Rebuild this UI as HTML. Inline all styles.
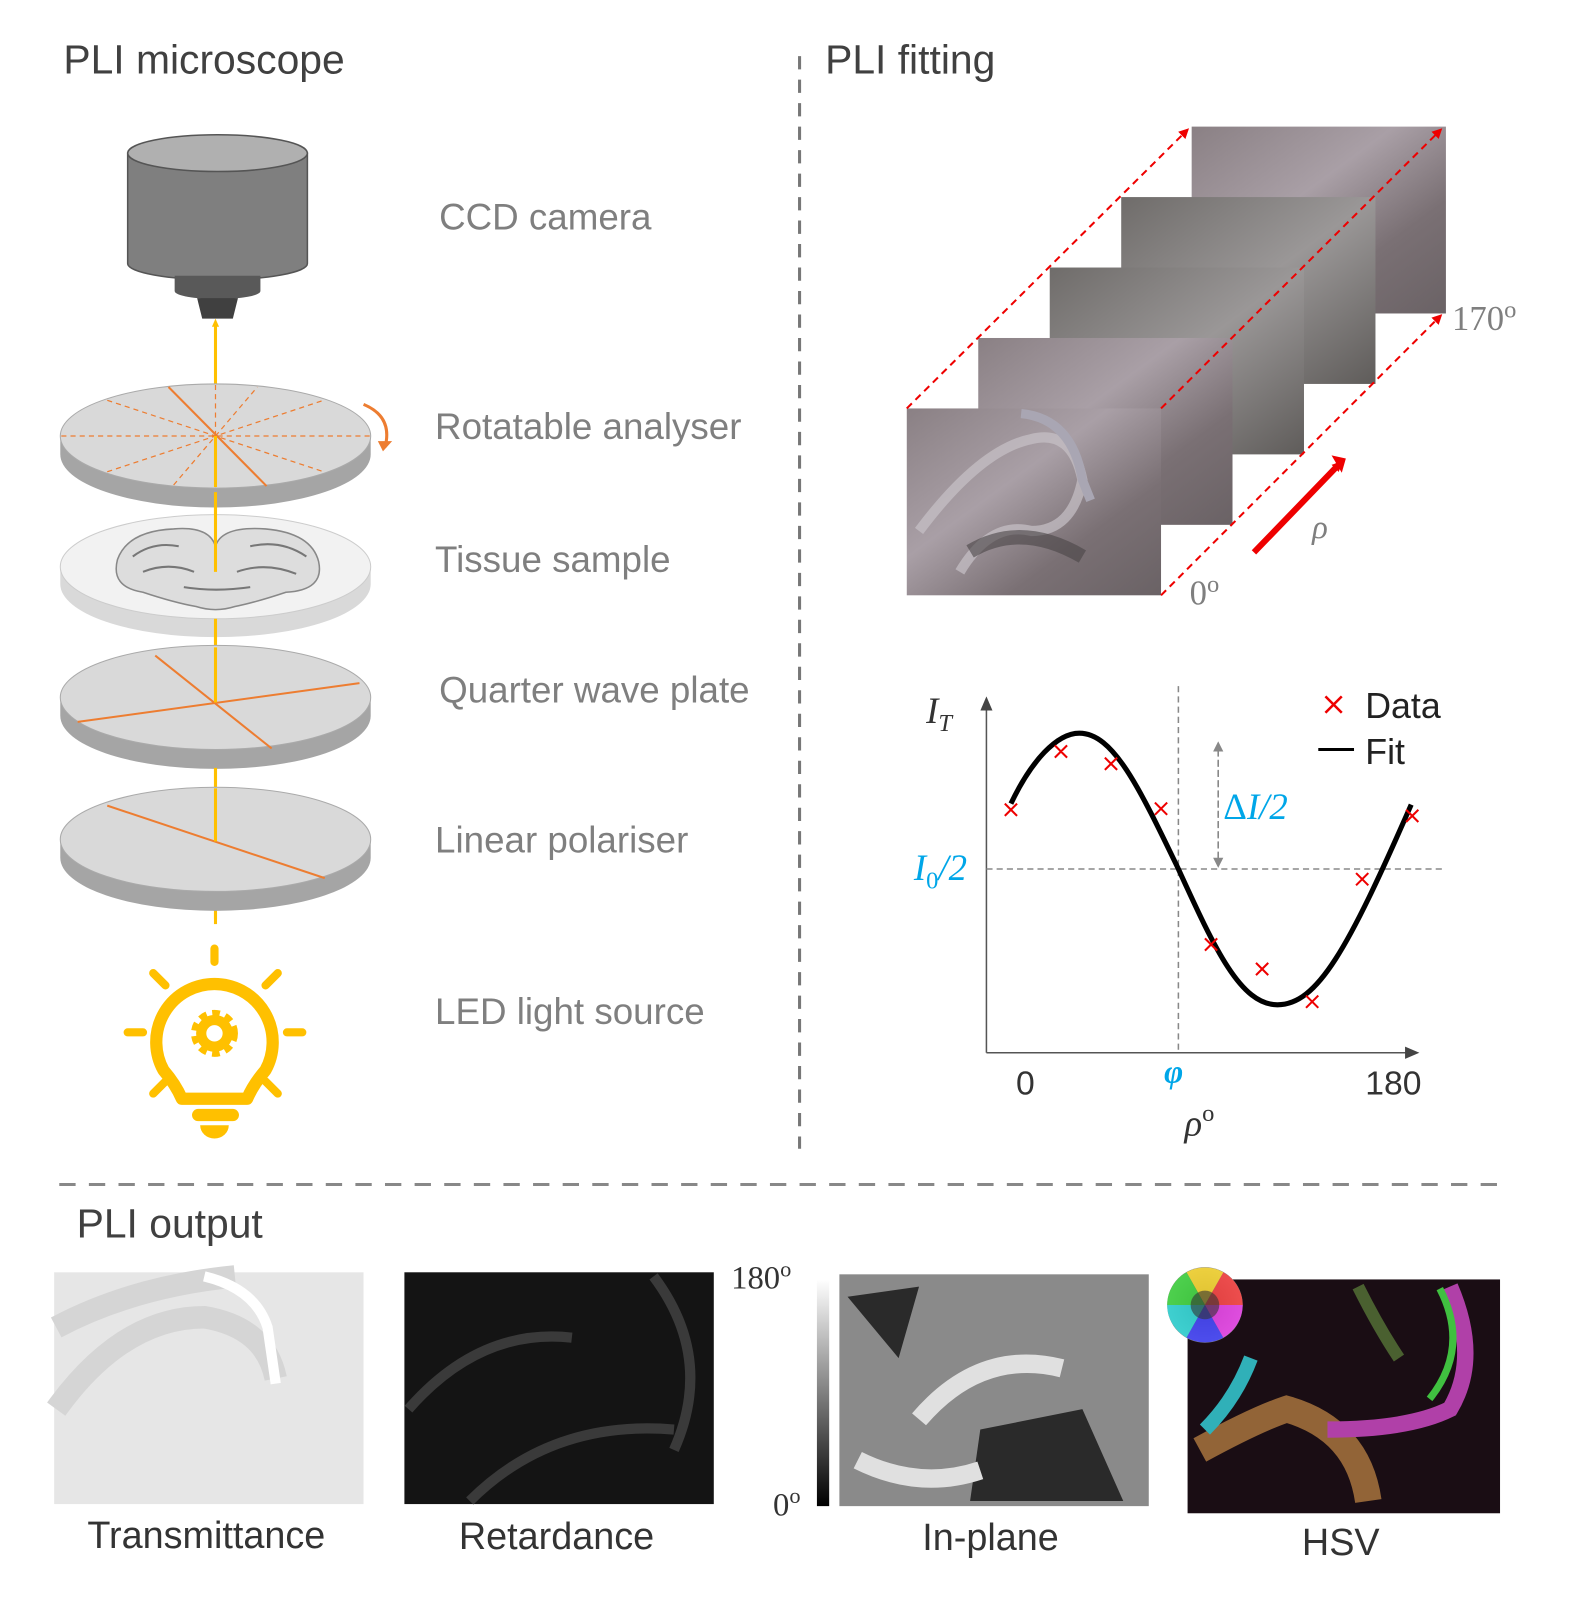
<!DOCTYPE html>
<html><head><meta charset="utf-8"><style>
html,body{margin:0;padding:0;background:#fff}
svg{display:block}
text{font-family:"Liberation Sans",sans-serif}
.lab{fill:#7f7f7f;font-size:36px}
.ser{font-family:"Liberation Serif",serif}
</style></head><body>
<svg width="1593" height="1597" viewBox="0 0 1560 1564" xmlns="http://www.w3.org/2000/svg">
<defs>
<linearGradient id="tis" x1="0" y1="0" x2="1" y2="1">
<stop offset="0" stop-color="#8a8084"/><stop offset=".4" stop-color="#a99fa6"/><stop offset=".7" stop-color="#7a7074"/><stop offset="1" stop-color="#6a6265"/></linearGradient>
<linearGradient id="tis2" x1="0" y1="0" x2="1" y2="1">
<stop offset="0" stop-color="#6f6c6a"/><stop offset=".5" stop-color="#9a9797"/><stop offset="1" stop-color="#5f5c5a"/></linearGradient>
<linearGradient id="cb" x1="0" y1="0" x2="0" y2="1"><stop offset="0" stop-color="#fff"/><stop offset="1" stop-color="#000"/></linearGradient>
<radialGradient id="wh"><stop offset="0" stop-color="#222"/><stop offset="1" stop-color="#888"/></radialGradient>
<marker id="ya" markerWidth="8" markerHeight="8" refX="4" refY="4" orient="auto" markerUnits="userSpaceOnUse"><path d="M0,0.5L8,4L0,7.5z" fill="#ffc000"/></marker>
<marker id="ra" markerWidth="10" markerHeight="10" refX="8" refY="5" orient="auto" markerUnits="userSpaceOnUse"><path d="M0,0L10,5L0,10z" fill="#e00"/></marker>
<marker id="ga" markerWidth="10" markerHeight="10" refX="8" refY="5" orient="auto" markerUnits="userSpaceOnUse"><path d="M0,0L10,5L0,10z" fill="#888"/></marker>
<marker id="ka" markerWidth="14" markerHeight="12" refX="12" refY="6" orient="auto" markerUnits="userSpaceOnUse"><path d="M0,0L14,6L0,12z" fill="#444"/></marker>
</defs>

<text x="62" y="72" font-size="40" fill="#404040">PLI microscope</text>
<text x="808" y="72" font-size="40" fill="#404040">PLI fitting</text>
<text x="75" y="1212" font-size="40" fill="#404040">PLI output</text>
<line x1="783" y1="55" x2="783" y2="1125" stroke="#777" stroke-width="3" stroke-dasharray="13,10"/>
<line x1="58" y1="1160" x2="1468" y2="1160" stroke="#888" stroke-width="3" stroke-dasharray="16,13"/>

<path d="M125,150 V258 A88,16 0 0 0 301,258 V150 Z" fill="#7f7f7f" stroke="#555" stroke-width="1.5"/>
<ellipse cx="213" cy="150" rx="88" ry="18" fill="#b0b0b0" stroke="#555" stroke-width="1.5"/>
<path d="M171,270 V285 A42,8 0 0 0 255,285 V270 Z" fill="#595959"/>
<path d="M193,292 L233,292 L228,312 L198,312 Z" fill="#404040"/>

<line x1="211" y1="900" x2="211" y2="316" stroke="#ffc000" stroke-width="3" marker-end="url(#ya)"/>

<path d="M59,427 V445 A152,52 0 0 0 363,445 V427 Z" fill="#a5a5a5"/>
<ellipse cx="211" cy="427" rx="152" ry="51" fill="#d9d9d9" stroke="#aaa"/>
<g stroke="#ed7d31" stroke-width="1.2" stroke-dasharray="5,4">
<line x1="60" y1="427" x2="362" y2="427"/><line x1="211" y1="377" x2="211" y2="477"/>
<line x1="105" y1="392" x2="317" y2="462"/><line x1="105" y1="462" x2="317" y2="392"/>
<line x1="170" y1="475" x2="252" y2="379"/>
</g>
<line x1="165" y1="379" x2="261" y2="476" stroke="#ed7d31" stroke-width="2"/>
<line x1="211" y1="427" x2="211" y2="477" stroke="#ffc000" stroke-width="3"/>
<path d="M356,396 Q385,408 377,438" fill="none" stroke="#ed7d31" stroke-width="3"/>
<path d="M370,432 L384,432 L375,442 Z" fill="#ed7d31"/>

<path d="M59,555 V572 A152,52 0 0 0 363,572 V555 Z" fill="#d9d9d9"/>
<ellipse cx="211" cy="555" rx="152" ry="51" fill="#f2f2f2" stroke="#ccc"/>
<path d="M115,548 Q125,520 170,518 Q205,515 211,535 Q217,515 260,518 Q305,522 312,550 Q318,578 280,580 Q250,590 230,594 Q211,600 192,594 Q170,590 140,580 Q108,575 115,548Z" fill="#ddd" stroke="#888" stroke-width="1.5"/>
<g fill="none" stroke="#777" stroke-width="2">
<path d="M130,545 Q150,530 175,535 M140,560 Q165,550 190,560 M245,535 Q275,528 300,545 M232,560 Q260,550 290,562 M180,575 Q211,580 245,575"/>
</g>
<line x1="211" y1="482" x2="211" y2="560" stroke="#ffc000" stroke-width="3"/>

<line x1="211" y1="606" x2="211" y2="690" stroke="#ffc000" stroke-width="3"/>
<path d="M59,683 V701 A152,52 0 0 0 363,701 V683 Z" fill="#a5a5a5"/>
<ellipse cx="211" cy="683" rx="152" ry="51" fill="#d9d9d9" stroke="#aaa"/>
<line x1="152" y1="642" x2="266" y2="733" stroke="#ed7d31" stroke-width="2"/>
<line x1="76" y1="707" x2="352" y2="669" stroke="#ed7d31" stroke-width="2"/>
<line x1="211" y1="634" x2="211" y2="688" stroke="#ffc000" stroke-width="3"/>

<line x1="211" y1="752" x2="211" y2="780" stroke="#ffc000" stroke-width="3"/>
<path d="M59,822 V840 A152,52 0 0 0 363,840 V822 Z" fill="#a5a5a5"/>
<ellipse cx="211" cy="822" rx="152" ry="51" fill="#d9d9d9" stroke="#aaa"/>
<line x1="105" y1="789" x2="318" y2="860" stroke="#ed7d31" stroke-width="2"/>
<line x1="211" y1="772" x2="211" y2="824" stroke="#ffc000" stroke-width="3"/>
<line x1="211" y1="893" x2="211" y2="905" stroke="#ffc000" stroke-width="3"/>

<g stroke="#ffc000" stroke-width="8" stroke-linecap="round" fill="none">
<line x1="210" y1="929" x2="210" y2="942"/>
<line x1="150" y1="953" x2="162" y2="965"/><line x1="272" y1="953" x2="260" y2="965"/>
<line x1="125" y1="1011" x2="140" y2="1011"/><line x1="281" y1="1011" x2="296" y2="1011"/>
<line x1="150" y1="1071" x2="162" y2="1059"/><line x1="272" y1="1071" x2="260" y2="1059"/>
</g>
<path d="M178,1076 Q172,1062 160,1048 A57,57 0 1 1 260,1048 Q248,1062 242,1076 Z" fill="none" stroke="#ffc000" stroke-width="12" stroke-linejoin="round"/>
<rect x="188" y="1086" width="46" height="12" rx="6" fill="#ffc000"/>
<path d="M196,1102 H224 A14,13 0 0 1 196,1102 Z" fill="#ffc000"/>
<circle cx="210" cy="1012" r="16" fill="none" stroke="#ffc000" stroke-width="14" stroke-dasharray="6,4.5"/>
<circle cx="210" cy="1012" r="13" fill="none" stroke="#ffc000" stroke-width="10"/>

<text class="lab" x="430" y="225" font-size="37">CCD camera</text>
<text class="lab" x="426" y="430" font-size="37">Rotatable analyser</text>
<text class="lab" x="426" y="560" font-size="37">Tissue sample</text>
<text class="lab" x="430" y="688" font-size="37">Quarter wave plate</text>
<text class="lab" x="426" y="835" font-size="37">Linear polariser</text>
<text class="lab" x="426" y="1003" font-size="37">LED light source</text>

<!-- image stack -->
<rect x="1167" y="124" width="249" height="183" fill="url(#tis)"/>
<rect x="1098" y="193" width="249" height="183" fill="url(#tis2)"/>
<rect x="1028" y="262" width="249" height="183" fill="url(#tis2)"/>
<rect x="958" y="331" width="249" height="183" fill="url(#tis)"/>
<rect x="888" y="400" width="249" height="183" fill="url(#tis)"/>
<path d="M900,520 Q960,440 1010,430 Q1050,420 1060,470 Q1050,520 1010,520 Q970,510 940,560" fill="none" stroke="#c8c2c8" stroke-width="10" opacity=".7"/>
<path d="M1000,405 Q1050,410 1060,470 L1068,490" fill="none" stroke="#a9a6b3" stroke-width="9"/>
<path d="M950,540 Q1000,510 1060,545" fill="none" stroke="#4a4446" stroke-width="14" opacity=".6"/>
<g stroke="#e00" stroke-width="2" stroke-dasharray="7,5" fill="none">
<line x1="888" y1="400" x2="1163" y2="127" marker-end="url(#ra)"/>
<line x1="1137" y1="400" x2="1411" y2="127" marker-end="url(#ra)"/>
<line x1="1137" y1="583" x2="1411" y2="309" marker-end="url(#ra)"/>
</g>
<line x1="1228" y1="541" x2="1313" y2="453" stroke="#e00" stroke-width="6" marker-end="url(#ra)"/>
<path d="M1304,446 L1318,449 L1314,463 Z" fill="#e00"/>
<text x="1285" y="527" class="ser" font-size="32" font-style="italic" fill="#7f7f7f">ρ</text>
<text x="1422" y="323" class="ser" font-size="34" fill="#7f7f7f">170<tspan font-size="24" dy="-12">o</tspan></text>
<text x="1165" y="592" class="ser" font-size="34" fill="#7f7f7f">0<tspan font-size="24" dy="-12">o</tspan></text>

<!-- plot -->
<line x1="966" y1="1031" x2="966" y2="684" stroke="#555" stroke-width="1.5" marker-end="url(#ka)"/>
<line x1="966" y1="1031" x2="1388" y2="1031" stroke="#555" stroke-width="1.5" marker-end="url(#ka)"/>
<line x1="966" y1="851" x2="1412" y2="851" stroke="#888" stroke-width="1.5" stroke-dasharray="6,4"/>
<line x1="1154" y1="672" x2="1154" y2="1031" stroke="#888" stroke-width="1.5" stroke-dasharray="6,4"/>
<line x1="1193" y1="840" x2="1193" y2="728" stroke="#888" stroke-width="1.5" stroke-dasharray="6,4" marker-end="url(#ga)"/>
<line x1="1193" y1="735" x2="1193" y2="848" stroke="#888" stroke-width="1.5" stroke-dasharray="6,4" marker-end="url(#ga)"/>
<path fill="none" stroke="#000" stroke-width="5" d="M990,787 C1010,745 1035,718 1057,718 C1090,718 1115,770 1154,851 C1190,930 1215,984 1251,984 C1290,984 1320,930 1382,788"/>
<g stroke="#e00" stroke-width="2">
<path d="M984,787l12,12m0,-12l-12,12M1033,730l12,12m0,-12l-12,12M1082,742l12,12m0,-12l-12,12M1131,786l12,12m0,-12l-12,12M1180,919l12,12m0,-12l-12,12M1230,943l12,12m0,-12l-12,12M1279,975l12,12m0,-12l-12,12M1328,855l12,12m0,-12l-12,12M1377,793l12,12m0,-12l-12,12"/>
<path d="M1298,682l16,16m0,-16l-16,16" stroke-width="2.5"/>
</g>
<line x1="1291" y1="734" x2="1326" y2="734" stroke="#000" stroke-width="3"/>
<text x="1337" y="703" font-size="35" fill="#222">Data</text>
<text x="1337" y="748" font-size="35" fill="#222">Fit</text>
<text x="907" y="708" class="ser" font-size="36" font-style="italic" fill="#333">I<tspan font-size="24" dy="8">T</tspan></text>
<text x="895" y="862" class="ser" font-size="36" font-style="italic" fill="#00a6e8">I<tspan font-size="24" dy="8" font-style="normal">0</tspan><tspan dy="-8">/2</tspan></text>
<text x="1198" y="802" class="ser" font-size="36" font-style="italic" fill="#00a6e8"><tspan font-style="normal">Δ</tspan>I/2</text>
<text x="1140" y="1060" class="ser" font-size="32" font-style="italic" font-weight="bold" fill="#00a6e8">φ</text>
<text x="995" y="1072" font-size="33" fill="#333">0</text>
<text x="1337" y="1072" font-size="33" fill="#333">180</text>
<text x="1160" y="1112" class="ser" font-size="36" font-style="italic" fill="#333">ρ<tspan font-size="24" dy="-14" font-style="normal">o</tspan></text>

<!-- output images -->
<rect x="53" y="1246" width="303" height="227" fill="#e6e6e6"/>
<path d="M55,1380 Q120,1290 200,1290 Q260,1300 270,1350 M55,1300 Q130,1260 230,1250" fill="none" stroke="#d5d5d5" stroke-width="22"/>
<path d="M200,1250 Q250,1262 262,1300 L270,1355" fill="none" stroke="#fff" stroke-width="10"/>
<rect x="396" y="1246" width="303" height="227" fill="#141414"/>
<path d="M400,1380 Q470,1300 560,1310 M460,1470 Q540,1390 660,1400 M640,1250 Q700,1330 660,1420" fill="none" stroke="#444" stroke-width="10" opacity=".8"/>
<rect x="800" y="1253" width="12" height="222" fill="url(#cb)"/>
<text x="716" y="1262" class="ser" font-size="32" fill="#333">180<tspan font-size="22" dy="-12">o</tspan></text>
<text x="757" y="1484" class="ser" font-size="32" fill="#333">0<tspan font-size="22" dy="-12">o</tspan></text>
<rect x="822" y="1248" width="303" height="227" fill="#8a8a8a"/>
<path d="M830,1270 L900,1260 L880,1330 Z M960,1400 L1060,1380 L1100,1470 L950,1470 Z" fill="#2a2a2a"/>
<path d="M900,1390 Q960,1320 1040,1340 M840,1430 Q900,1460 960,1440" fill="none" stroke="#e0e0e0" stroke-width="18"/>
<rect x="1163" y="1253" width="306" height="229" fill="#1a0d14"/>
<path d="M1175,1420 Q1230,1390 1260,1380 Q1330,1400 1340,1470" fill="none" stroke="#b07a40" stroke-width="26" opacity=".8"/>
<path d="M1225,1330 Q1210,1370 1180,1400" fill="none" stroke="#30b0b8" stroke-width="14"/>
<path d="M1420,1260 Q1450,1330 1420,1380 Q1380,1400 1300,1400" fill="none" stroke="#b040a8" stroke-width="16"/>
<path d="M1410,1262 Q1440,1320 1400,1370" fill="none" stroke="#40c040" stroke-width="7"/>
<path d="M1330,1260 Q1350,1300 1370,1330" fill="none" stroke="#4a6030" stroke-width="12"/>
<circle cx="1180" cy="1278" r="37" fill="url(#wh)"/>
<g opacity=".85">
<path d="M1180,1278 L1217,1278 A37,37 0 0 0 1198,1246 Z" fill="#f44"/>
<path d="M1180,1278 L1198,1246 A37,37 0 0 0 1162,1246 Z" fill="#fd3"/>
<path d="M1180,1278 L1162,1246 A37,37 0 0 0 1143,1278 Z" fill="#4d4"/>
<path d="M1180,1278 L1143,1278 A37,37 0 0 0 1162,1310 Z" fill="#3dd"/>
<path d="M1180,1278 L1162,1310 A37,37 0 0 0 1198,1310 Z" fill="#44f"/>
<path d="M1180,1278 L1198,1310 A37,37 0 0 0 1217,1278 Z" fill="#e4e"/>
</g>
<circle cx="1180" cy="1278" r="14" fill="#333" opacity=".6"/>
<text x="202" y="1516" font-size="37" fill="#333" text-anchor="middle">Transmittance</text>
<text x="545" y="1517" font-size="37" fill="#333" text-anchor="middle">Retardance</text>
<text x="970" y="1518" font-size="37" fill="#333" text-anchor="middle">In-plane</text>
<text x="1313" y="1523" font-size="37" fill="#333" text-anchor="middle">HSV</text>
</svg>
</body></html>
